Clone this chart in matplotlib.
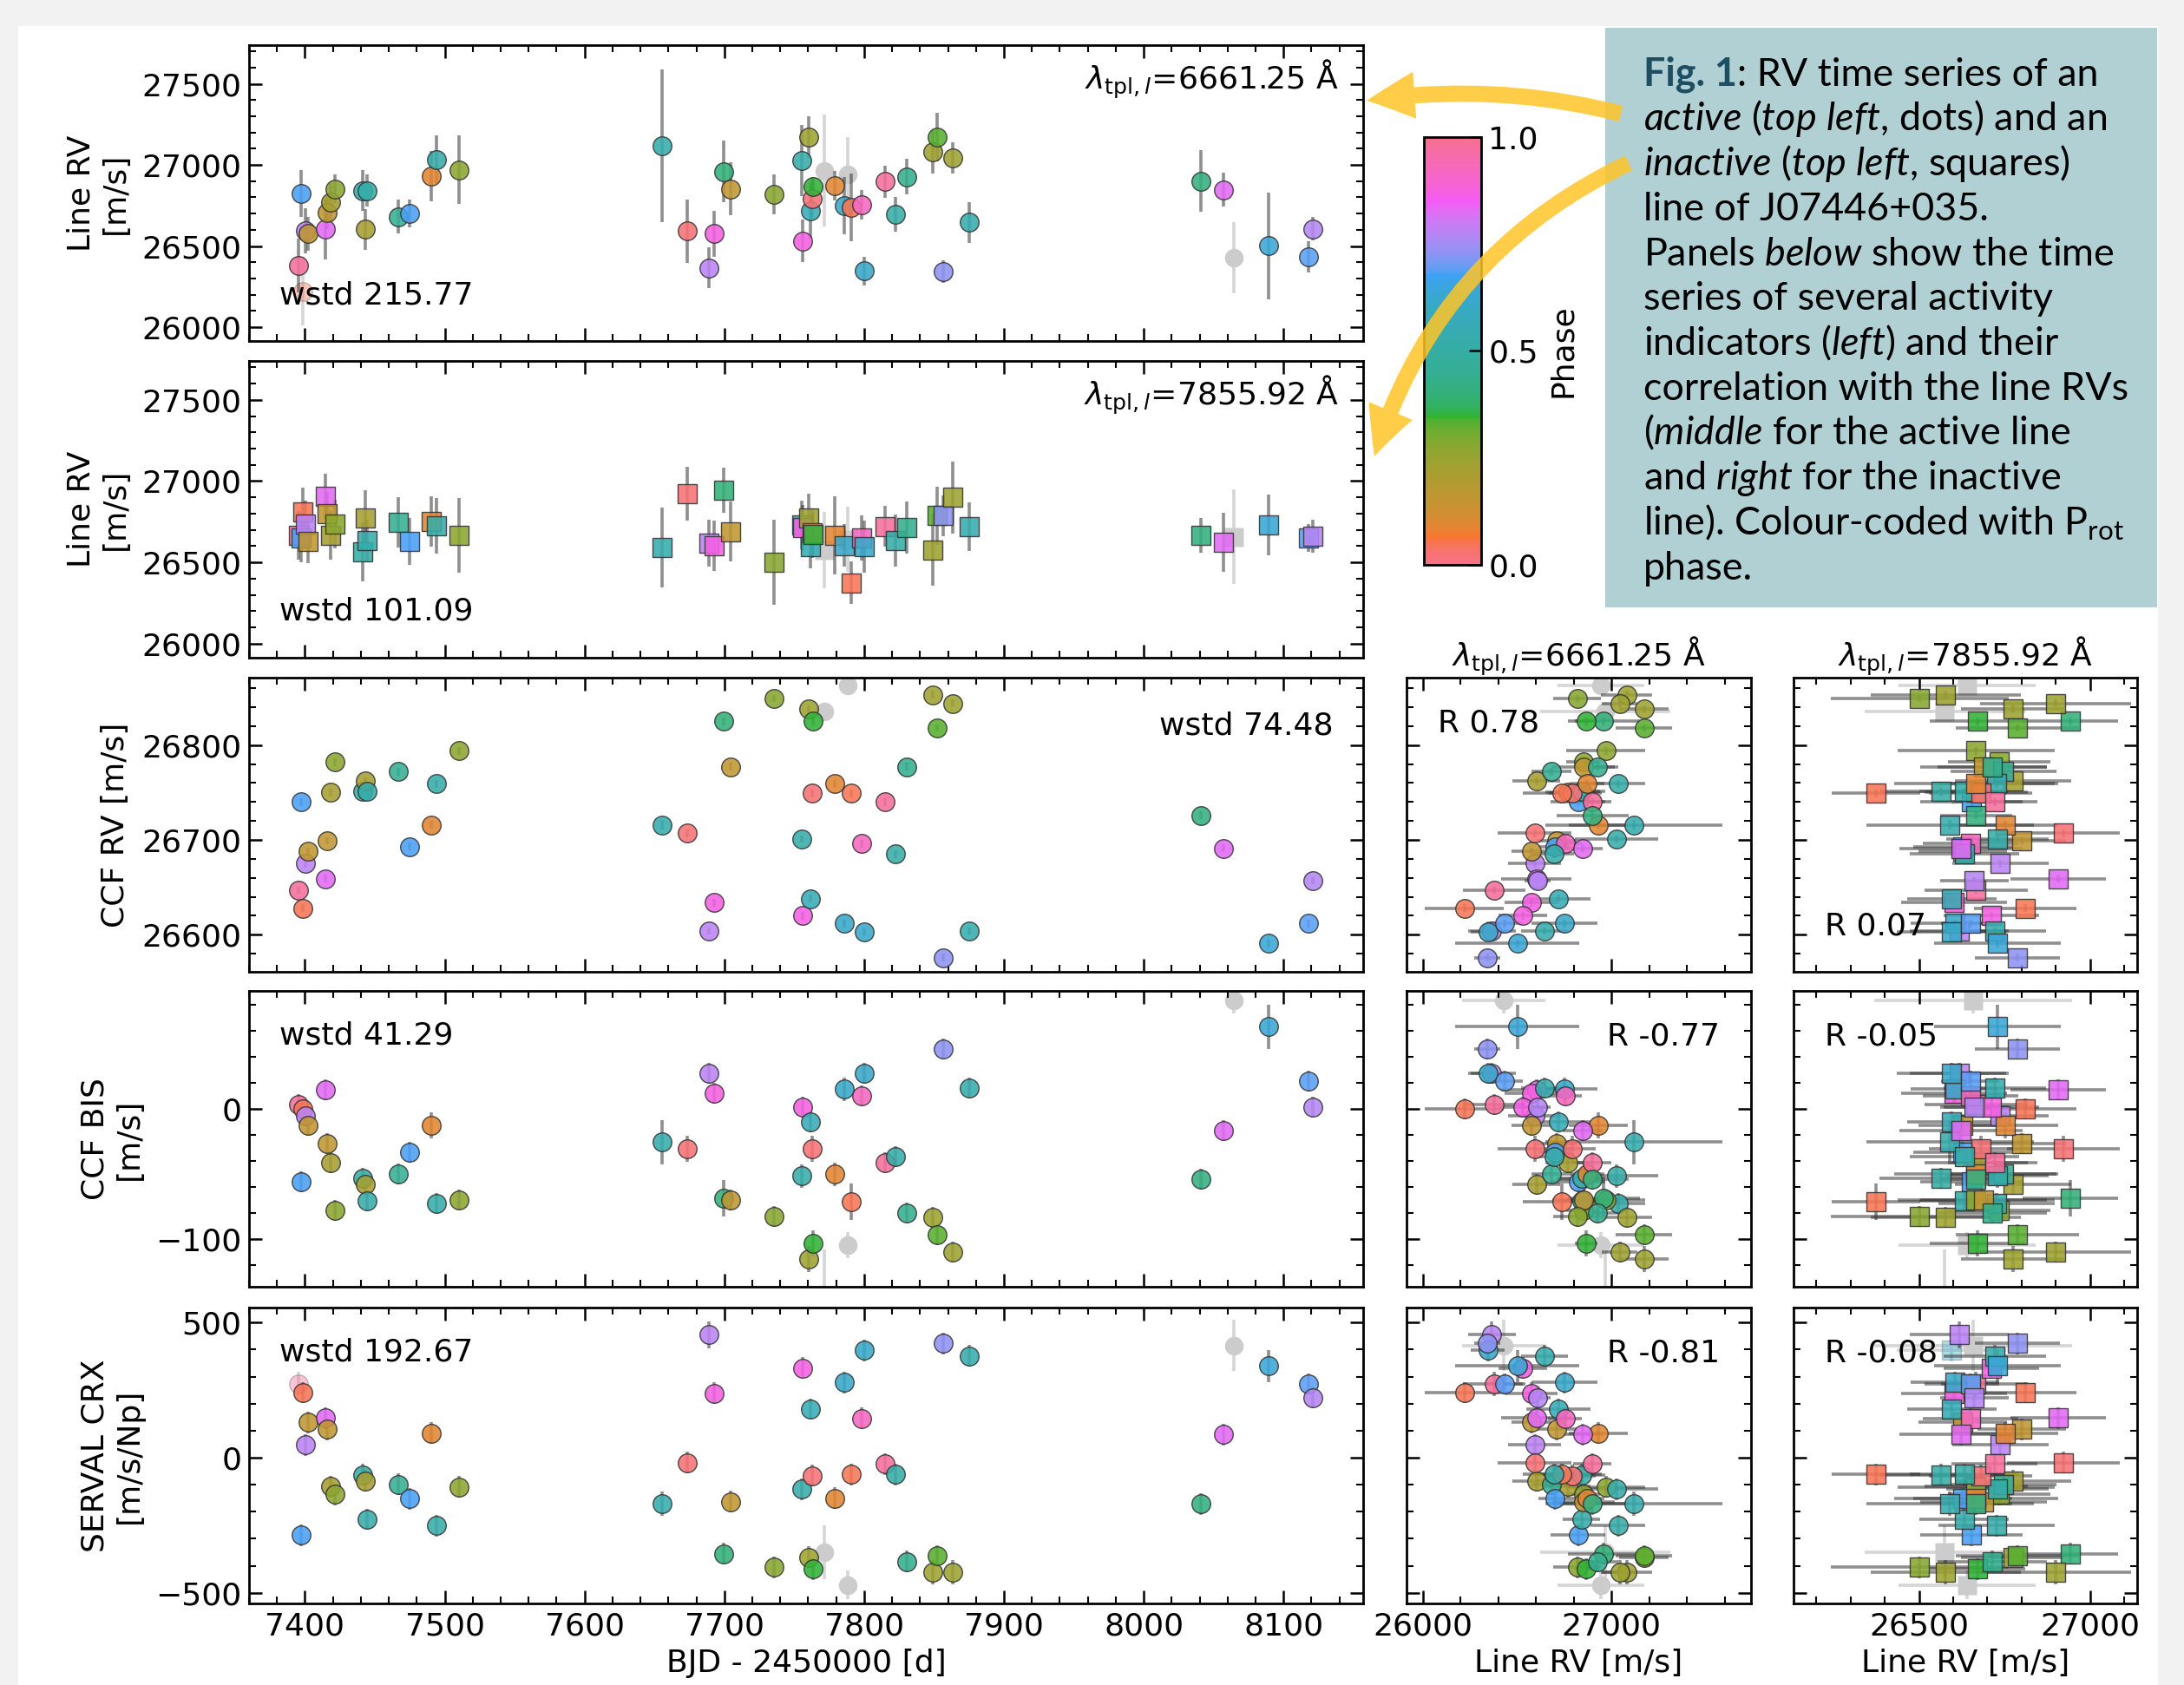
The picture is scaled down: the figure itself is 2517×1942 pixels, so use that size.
import matplotlib
matplotlib.use('Agg')
from matplotlib import pyplot as plt
from matplotlib.colors import ListedColormap, Normalize
from matplotlib.cm import ScalarMappable
from matplotlib.patches import Rectangle, FancyArrowPatch
from matplotlib.ticker import MultipleLocator
import seaborn as sns

# ---- data (one entry per epoch) ----
bjd = [7395.6, 7398.7, 7397.5, 7400.6, 7401.9, 7414.6, 7415.8, 7418.4, 7421.5, 7441.1,
       7443.0, 7444.3, 7466.5, 7474.7, 7490.5, 7494.3, 7510.1, 7655.7, 7673.4, 7689.2,
       7692.4, 7699.4, 7704.4, 7735.4, 7755.7, 7756.3, 7760.1, 7761.4, 7762.7, 7763.3,
       7771.5, 7779.1, 7786.1, 7788.0, 7790.5, 7798.1, 7800.0, 7815.2, 7822.2, 7830.4,
       7849.4, 7852.5, 7856.3, 7863.3, 7875.3, 8041.1, 8057.0, 8064.6, 8089.2, 8117.7, 8120.9]

phase = [0.98, 0.05, 0.68, 0.78, 0.16, 0.83, 0.16, 0.22, 0.27, 0.50,
         0.22, 0.52, 0.45, 0.68, 0.09, 0.52, 0.27, 0.53, 0.02, 0.78,
         0.87, 0.40, 0.16, 0.28, 0.52, 0.87, 0.24, 0.56, 0.02, 0.35,
         0.00, 0.09, 0.61, 0.00, 0.05, 0.92, 0.61, 0.98, 0.51, 0.44,
         0.24, 0.33, 0.73, 0.24, 0.53, 0.41, 0.83, 0.00, 0.64, 0.69, 0.77]

masked = [30, 33, 47]

rv1 = [26380, 26221, 26823, 26593, 26575, 26602, 26708, 26770, 26850, 26841,
       26602, 26841, 26681, 26699, 26929, 27035, 26970, 27119, 26593, 26366,
       26575, 26959, 26853, 26818, 27027, 26531, 27172, 26717, 26791, 26864,
       26965, 26871, 26749, 26942, 26738, 26754, 26345, 26897, 26695, 26926,
       27080, 27172, 26341, 27044, 26646, 26899, 26846, 26428, 26501, 26433, 26607]
rv1_err = [165, 210, 145, 140, 105, 185, 105, 120, 90, 125,
           125, 100, 105, 85, 155, 145, 210, 470, 195, 125,
           140, 190, 165, 125, 220, 130, 130, 170, 125, 60,
           345, 90, 175, 230, 210, 90, 90, 100, 105, 110,
           135, 150, 70, 95, 125, 190, 105, 220, 330, 95, 70]

rv2 = [26667, 26810, 26653, 26738, 26628, 26907, 26801, 26667, 26735, 26564,
       26774, 26632, 26747, 26628, 26751, 26726, 26667, 26591, 26922, 26618,
       26602, 26943, 26689, 26502, 26730, 26712, 26774, 26596, 26680, 26671,
       26575, 26667, 26605, 26641, 26374, 26650, 26596, 26721, 26632, 26715,
       26578, 26787, 26788, 26899, 26721, 26667, 26623, 26658, 26730, 26650, 26662]
rv2_err = [150, 150, 150, 140, 130, 140, 130, 150, 150, 180,
           170, 130, 155, 145, 155, 170, 230, 245, 165, 145,
           155, 140, 185, 260, 150, 140, 150, 130, 150, 140,
           235, 240, 130, 200, 130, 140, 160, 125, 160, 160,
           220, 180, 125, 220, 150, 105, 180, 290, 185, 85, 100]

ccf_rv = [26647, 26628, 26740, 26675, 26688, 26659, 26699, 26750, 26782, 26751,
          26762, 26751, 26772, 26693, 26716, 26759, 26794, 26716, 26707, 26604,
          26634, 26825, 26777, 26849, 26701, 26620, 26838, 26638, 26749, 26825,
          26835, 26759, 26612, 26863, 26749, 26696, 26603, 26740, 26685, 26777,
          26853, 26818, 26576, 26844, 26604, 26726, 26691, 26920, 26591, 26612, 26657]
ccf_rv_err = [4, 4, 4, 4, 4, 4, 4, 4, 4, 4,
              4, 4, 4, 4, 4, 4, 4, 5, 4, 4,
              4, 4, 4, 4, 4, 4, 4, 4, 4, 4,
              5, 4, 4, 5, 4, 4, 4, 4, 4, 4,
              4, 4, 4, 4, 4, 4, 4, 5, 4, 4, 4]

ccf_bis = [2.9, 0.0, -56, -5.6, -12.7, 14.7, -27, -41.6, -78, -53.8,
           -58, -71, -50, -33.8, -12.7, -73, -70.4, -25.6, -30.9, 27.3,
           11.8, -69, -70, -82.7, -51.6, 1.3, -115.3, -10.4, -30.9, -103.8,
           -150, -50.4, 15.1, -104.9, -71.6, 9.6, 27.3, -41.6, -37, -80,
           -83.3, -96.7, 45.6, -110.4, 15.6, -54.4, -17, 83, 62.9, 21, 1.3]
ccf_bis_err = [8, 8, 8, 8, 8, 8, 8, 8, 8, 8,
               8, 8, 8, 8, 10, 8, 8, 17, 10, 8,
               8, 14, 8, 8, 9, 8, 10, 8, 10, 10,
               42, 9, 9, 10, 14, 8, 8, 8, 8, 8,
               8, 8, 8, 8, 8, 8, 8, 10, 17, 8, 8]

crx = [273, 241, -287, 48, 131, 147, 105, -107, -136, -64,
       -86, -228, -98, -152, 91, -252, -109, -169, -19, 455,
       239, -356, -163, -405, -116, 332, -369, 180, -67, -412,
       -351, -150, 278, -471, -62, 145, 398, -24, -62, -385,
       -425, -364, 423, -425, 377, -171, 86, 415, 339, 273, 223]
crx_err = [45, 40, 40, 40, 40, 40, 40, 40, 40, 40,
           40, 40, 40, 40, 40, 40, 40, 45, 40, 50,
           40, 40, 40, 40, 40, 40, 40, 40, 40, 40,
           99, 40, 40, 53, 40, 40, 40, 40, 40, 40,
           45, 40, 40, 45, 40, 40, 40, 95, 60, 40, 40]

wstd_labels = ['wstd 215.77', 'wstd 101.09', 'wstd 74.48', 'wstd 41.29', 'wstd 192.67']
r_mid = ['R 0.78', 'R -0.77', 'R -0.81']
r_right = ['R 0.07', 'R -0.05', 'R -0.08']
line_tags = [r'$\lambda_{\rm tpl,\mathit{l}}$=6661.25 Å', r'$\lambda_{\rm tpl,\mathit{l}}$=7855.92 Å']

caption = [
    ': RV time series of an',
    r'$\mathit{active}$ ($\mathit{top\ left}$, dots) and an',
    r'$\mathit{inactive}$ ($\mathit{top\ left}$, squares)',
    'line of J07446+035.',
    r'Panels $\mathit{below}$ show the time',
    'series of several activity',
    r'indicators ($\mathit{left}$) and their',
    'correlation with the line RVs',
    r'($\mathit{middle}$ for the active line',
    r'and $\mathit{right}$ for the inactive',
    r'line). Colour-coded with P$_\mathrm{rot}$',
    'phase.',
]

# ---- style ----
plt.rcParams.update({
    'font.size': 26,
    'axes.linewidth': 2.0,
    'xtick.direction': 'in', 'ytick.direction': 'in',
    'xtick.top': True, 'ytick.right': True,
    'xtick.major.size': 10.5, 'ytick.major.size': 10.5,
    'xtick.minor.size': 5.5, 'ytick.minor.size': 5.5,
    'xtick.major.width': 1.8, 'ytick.major.width': 1.8,
    'xtick.minor.width': 1.5, 'ytick.minor.width': 1.5,
    'xtick.major.pad': 7, 'ytick.major.pad': 6,
    'mathtext.rm': 'Lato', 'mathtext.it': 'Lato:italic', 'mathtext.bf': 'Lato:bold',
})

W, H = 2517, 1942
fig = plt.figure(figsize=(W / 100, H / 100), dpi=100)
fig.patch.set_facecolor('#f2f2f2')
fig.add_artist(Rectangle((21 / W, 0), (2487 - 21) / W, 1 - 30 / H, transform=fig.transFigure,
                         facecolor='white', edgecolor='none', zorder=-2))
fig.add_artist(Rectangle((1850 / W, 1 - 700 / H), 636 / W, 668 / H, transform=fig.transFigure,
                         facecolor='#b0d0d3', edgecolor='none', zorder=-1))

cmap = ListedColormap(sns.color_palette('husl', 256))
MS = 15.5


def px_axes(x0, y0, x1, y1):
    return fig.add_axes([x0 / W, 1 - y1 / H, (x1 - x0) / W, (y1 - y0) / H])


def draw_points(ax, x, y, xerr, yerr, marker, faded=()):
    for i in range(len(x)):
        xe = None if xerr is None else xerr[i]
        if i in masked:
            ax.errorbar(x[i], y[i], xerr=xe, yerr=yerr[i], fmt='none', ecolor='#d6d6d6',
                        elinewidth=2.6, zorder=1)
            ax.plot(x[i], y[i], marker, ms=MS, mfc='#cccccc', mec='none', zorder=1.5)
        elif i in faded:
            ax.errorbar(x[i], y[i], xerr=xe, yerr=yerr[i], fmt='none', ecolor='#d6d6d6',
                        elinewidth=2.6, zorder=1)
            ax.plot(x[i], y[i], marker, ms=MS, mfc=cmap(phase[i]), mec='#666666', mew=1,
                    alpha=0.4, zorder=1.5)
        else:
            ax.errorbar(x[i], y[i], xerr=xe, yerr=yerr[i], fmt='none', ecolor=(0.2, 0.2, 0.2, 0.55),
                        elinewidth=2.6, zorder=2)
            ax.plot(x[i], y[i], marker, ms=MS, mfc=cmap(phase[i]), mec='#333333', mew=1,
                    alpha=0.88, zorder=3)


rows = [
    dict(y=rv1, e=rv1_err, m='o', lim=(25914, 27739), maj=500, mn=100, lab='Line RV\n[m/s]', fade=(1,)),
    dict(y=rv2, e=rv2_err, m='s', lim=(25914, 27739), maj=500, mn=100, lab='Line RV\n[m/s]', fade=()),
    dict(y=ccf_rv, e=ccf_rv_err, m='o', lim=(26561, 26871), maj=100, mn=20, lab='CCF RV [m/s]', fade=()),
    dict(y=ccf_bis, e=ccf_bis_err, m='o', lim=(-136.9, 90.5), maj=100, mn=20, lab='CCF BIS\n[m/s]', fade=()),
    dict(y=crx, e=crx_err, m='o', lim=(-539.5, 555.6), maj=500, mn=100, lab='SERVAL CRX\n[m/s/Np]', fade=(0,)),
]
tops = [52, 416, 781, 1142, 1507]
bots = [393, 758, 1120, 1483, 1848]

for k, row in enumerate(rows):
    ax = px_axes(287, tops[k], 1571, bots[k])
    draw_points(ax, bjd, row['y'], None, row['e'], row['m'], row['fade'])
    ax.set_xlim(7360, 8157)
    ax.set_ylim(*row['lim'])
    ax.xaxis.set_major_locator(MultipleLocator(100))
    ax.xaxis.set_minor_locator(MultipleLocator(20))
    ax.yaxis.set_major_locator(MultipleLocator(row['maj']))
    ax.yaxis.set_minor_locator(MultipleLocator(row['mn']))
    ax.tick_params(which='both', direction='in', top=True, right=True)
    ax.set_ylabel(row['lab'], labelpad=10)
    if k < 4:
        ax.tick_params(labelbottom=False)
    else:
        ax.set_xlabel('BJD - 2450000 [d]', labelpad=6)

    if k < 2:
        ax.text(0.978, 0.850, line_tags[k], transform=ax.transAxes, ha='right', va='baseline',
                math_fontfamily='dejavusans')
        ax.text(0.027, 0.126, wstd_labels[k], transform=ax.transAxes, va='baseline', zorder=5)
    elif k == 2:
        ax.text(0.973, 0.808, wstd_labels[k], transform=ax.transAxes, ha='right', va='baseline', zorder=5)
    else:
        ax.text(0.027, 0.82, wstd_labels[k], transform=ax.transAxes, va='baseline', zorder=5)

    if k < 2:
        continue

    # correlation panels against the two line RVs
    for col, (x0, x1) in enumerate([(1621, 2018), (2067, 2463)]):
        sax = px_axes(x0, tops[k], x1, bots[k])
        if col == 0:
            draw_points(sax, rv1, row['y'], rv1_err, row['e'], 'o')
            sax.set_xlim(25914, 27739)
            sax.xaxis.set_major_locator(MultipleLocator(1000))
            sax.xaxis.set_minor_locator(MultipleLocator(200))
        else:
            draw_points(sax, rv2, row['y'], rv2_err, row['e'], 's', faded=(36,) if k == 4 else ())
            sax.set_xlim(26133, 27138)
            sax.xaxis.set_major_locator(MultipleLocator(500))
            sax.xaxis.set_minor_locator(MultipleLocator(100))
        sax.set_ylim(*row['lim'])
        sax.yaxis.set_major_locator(MultipleLocator(row['maj']))
        sax.yaxis.set_minor_locator(MultipleLocator(row['mn']))
        sax.tick_params(which='both', direction='in', top=True, right=True, labelleft=False)
        if k < 4:
            sax.tick_params(labelbottom=False)
        else:
            sax.set_xlabel('Line RV [m/s]', labelpad=6)
        if k == 2:
            sax.set_title(line_tags[col], pad=3, fontsize=26, math_fontfamily='dejavusans')

        if col == 0:
            if k == 2:
                sax.text(0.091, 0.816, r_mid[0], transform=sax.transAxes, va='baseline', zorder=5)
            else:
                sax.text(0.909, 0.816, r_mid[k - 2], transform=sax.transAxes, ha='right',
                         va='baseline', zorder=5)
        else:
            ry = 0.126 if k == 2 else 0.816
            sax.text(0.09, ry, r_right[k - 2], transform=sax.transAxes, va='baseline', zorder=5)

# colour bar
cax = px_axes(1641, 158, 1707, 651)
cb = fig.colorbar(ScalarMappable(norm=Normalize(0, 1), cmap=cmap), cax=cax)
cb.set_ticks([0.0, 0.5, 1.0])
cb.set_ticklabels(['0.0', '0.5', '1.0'])
cb.outline.set_linewidth(2)
cax.tick_params(direction='in', length=10, width=1.8, pad=6, labelsize=26)
cb.set_label('Phase', fontsize=26, labelpad=8)

# caption text
renderer = fig.canvas.get_renderer()
probe = fig.text(0, 0, 'correlation with the line RVs', fontsize=30, family='Lato')
fs = 30 * 558 / probe.get_window_extent(renderer).width
probe.remove()

cx = 1894
for k, line in enumerate(caption):
    by = 1 - (98.7 + k * 51.75) / H
    if k == 0:
        t = fig.text(cx / W, by, 'Fig. 1', fontsize=fs, family='Lato', weight='bold',
                     color='#1d4e62', va='baseline')
        w = t.get_window_extent(renderer).width
        fig.text((cx + w) / W, by, line, fontsize=fs, family='Lato', va='baseline',
                 math_fontfamily='custom')
    else:
        fig.text(cx / W, by, line, fontsize=fs, family='Lato', va='baseline',
                 math_fontfamily='custom')

# yellow arrows from the caption to the two top panels
arrow_kw = dict(arrowstyle='simple,head_length=40,head_width=39,tail_width=13.5',
                mutation_scale=1, color='#ffc528', alpha=0.85, lw=0,
                shrinkA=0, shrinkB=0, transform=fig.transFigure, zorder=6)
fig.add_artist(FancyArrowPatch((1868 / W, 1 - 131 / H), (1575 / W, 1 - 116 / H),
                               connectionstyle='arc3,rad=0.1', **arrow_kw))
fig.add_artist(FancyArrowPatch((1877 / W, 1 - 188 / H), (1584 / W, 1 - 526 / H),
                               connectionstyle='arc3,rad=0.22', **arrow_kw))

fig.savefig('out.png', dpi=100, facecolor=fig.get_facecolor())
